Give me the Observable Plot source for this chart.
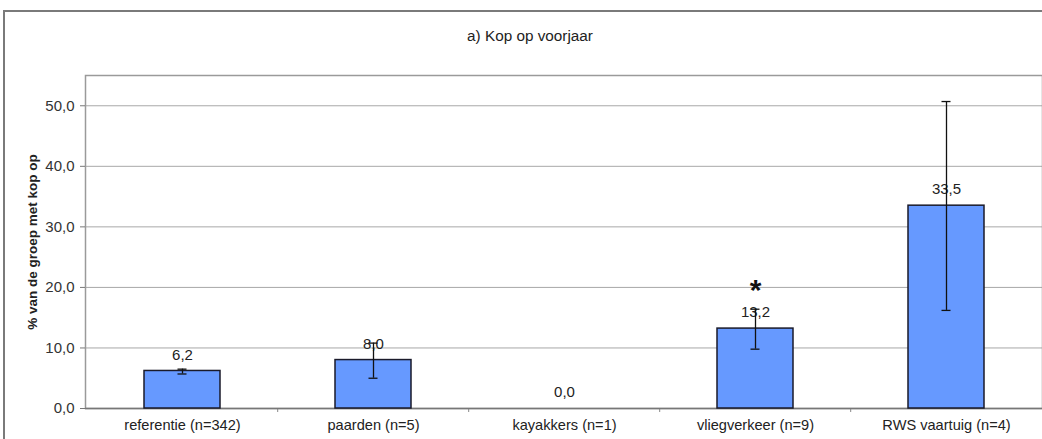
<!DOCTYPE html>
<html>
<head>
<meta charset="utf-8">
<script src="https://cdn.jsdelivr.net/npm/d3@7"></script>
<script src="https://cdn.jsdelivr.net/npm/@observablehq/plot@0.6"></script>
<style>
  html, body { margin: 0; padding: 0; background: #fff; overflow: hidden; }
  #wrap { position: relative; width: 1042px; height: 439px; }
  #outer { position: absolute; left: 3px; top: 10px; width: 1100px; height: 600px;
           border: 2px solid #7a7a7a; box-sizing: border-box; pointer-events: none; }
  #chart { position: absolute; left: 0; top: 0; }
</style>
</head>
<body>
<div id="wrap"><div id="chart"></div><div id="outer"></div></div>
<script>
const title = "a) Kop op voorjaar";
const yLabel = "% van de groep met kop op";
const categories = ["referentie (n=342)", "paarden (n=5)", "kayakkers (n=1)", "vliegverkeer (n=9)", "RWS vaartuig (n=4)"];
const values = [6.2, 8.0, 0.0, 13.2, 33.5];
const errLow = [5.7, 5.0, null, 9.8, 16.2];
const errHigh = [6.5, 10.8, null, 16.4, 50.7];
const significant = [false, false, false, true, false];
const starLevel = [null, null, null, 20.9, null];
const yTicks = [0, 10, 20, 30, 40, 50];

const nl = d3.formatLocale({decimal: ",", thousands: ".", grouping: [3], currency: ["€", ""]});
const fmt = nl.format(".1f");

const data = categories.map((c, i) => ({cat: c, value: values[i], lo: errLow[i], hi: errHigh[i], sig: significant[i], star: starLevel[i]}));
const errData = data.filter(d => d.lo != null);
const starData = data.filter(d => d.sig);

const font = "'Liberation Sans', Arial, Helvetica, sans-serif";
const halfStep = (1043 - 85) / categories.length / 2;

const chart = Plot.plot({
  width: 1042,
  height: 439,
  marginLeft: 85,
  marginRight: 0,
  marginTop: 75,
  marginBottom: 31,
  style: {fontFamily: font, fontSize: "14px", color: "#222", background: "transparent"},
  x: {domain: categories, range: [85, 1043], paddingInner: 0.6, paddingOuter: 0.3, label: null},
  y: {domain: [0, 55], label: null},
  marks: [
    Plot.gridY(yTicks.slice(1), {stroke: "#a8a8a8", strokeOpacity: 1, strokeWidth: 1}),
    Plot.frame({stroke: "#9a9a9a", strokeWidth: 1.5}),
    Plot.axisY(yTicks, {tickSize: 5, tickPadding: 6, tickFormat: fmt, stroke: "#777", fill: "#333", fontSize: 15, label: null}),
    Plot.axisX({tickSize: 0, tickPadding: 11, fill: "#222", fontSize: 14.6, label: null}),
    Plot.ruleX(categories.slice(1), {x: d => d, y1: 0, y2: 0, insetBottom: -4, dx: -halfStep, stroke: "#888", strokeWidth: 1}),
    Plot.ruleY([0], {stroke: "#777", strokeWidth: 1.5}),
    Plot.barY(data, {x: "cat", y: "value", fill: "#6699ff", stroke: "#1a1a2a", strokeWidth: 1.5}),
    Plot.text(data, {x: "cat", y: "value", text: d => fmt(d.value), dy: -16, fill: "#222", fontSize: 15}),
    Plot.ruleX(errData, {x: "cat", y1: "lo", y2: "hi", stroke: "#111", strokeWidth: 1.3}),
    Plot.tickY(errData, {x: "cat", y: "lo", stroke: "#111", strokeWidth: 1.3, insetLeft: 33.5, insetRight: 33.5}),
    Plot.tickY(errData, {x: "cat", y: "hi", stroke: "#111", strokeWidth: 1.3, insetLeft: 33.5, insetRight: 33.5}),
    Plot.text(starData, {x: "cat", y: "star", text: () => "*", fontSize: 30, fontWeight: "bold", fill: "#111", dy: 8}),
    Plot.text([title], {frameAnchor: "top", dx: -34, dy: -45, fontSize: 15.3, fill: "#222"}),
    Plot.text([yLabel], {frameAnchor: "left", textAnchor: "middle", rotate: -90, dx: -53, fontSize: 13.5, fontWeight: "bold", fill: "#222"})
  ]
});
document.getElementById("chart").appendChild(chart);
</script>
</body>
</html>
